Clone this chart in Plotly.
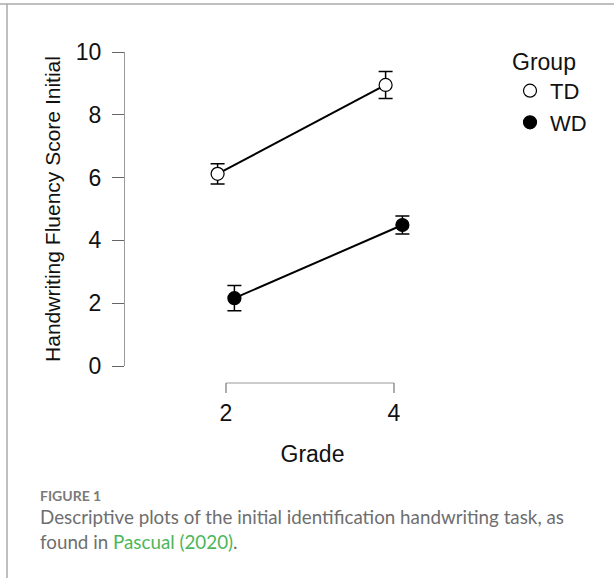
import plotly.graph_objects as go

# ---- data ----
grades = [2, 4]
groups = ["TD", "WD"]
td_mean = [6.12, 8.95]
td_se = [0.32, 0.43]
wd_mean = [2.16, 4.49]
wd_se = [0.40, 0.29]
y_ticks = [0, 2, 4, 6, 8, 10]
dodge = 0.1

# ---- layout geometry (pixels) ----
W, H = 614, 578
L, R, T, B = 125, 114, 52, 212
PW, PH = W - L - R, H - T - B
X2PX, X4PX = 226, 394
ppu = (X4PX - X2PX) / (grades[1] - grades[0])
xr = [grades[0] - (X2PX - L) / ppu, grades[1] + (W - R - X4PX) / ppu]


def px(x):
    return (x - L) / PW


def py(y):
    return (H - B - y) / PH


FONT = "Liberation Sans, Arial, sans-serif"
CAP_FONT = "Lato, Open Sans, sans-serif"
FS = 23

fig = go.Figure()

series = [
    (groups[0], td_mean, td_se, -dodge, "white"),
    (groups[1], wd_mean, wd_se, dodge, "black"),
]

for name, m, se, off, fill in series:
    xs = [g + off for g in grades]
    fig.add_trace(go.Scatter(
        x=xs, y=m, mode="lines", line=dict(color="black", width=2),
        showlegend=False, hoverinfo="skip"))

for name, m, se, off, fill in series:
    xs = [g + off for g in grades]
    fig.add_trace(go.Scatter(
        x=xs, y=m, mode="markers", name=name,
        marker=dict(symbol="circle", size=13, color=fill,
                    line=dict(color="black", width=1.2)),
        error_y=dict(type="data", array=se, visible=True,
                     color="black", thickness=1.5, width=7),
    ))

# x-axis bracket
ybr = py(383)
ytk = py(393)
fig.add_shape(type="line", xref="x", yref="paper", x0=grades[0], x1=grades[-1],
              y0=ybr, y1=ybr, line=dict(color="#999999", width=1.2))
for g in grades:
    fig.add_shape(type="line", xref="x", yref="paper", x0=g, x1=g,
                  y0=ybr, y1=ytk, line=dict(color="#777777", width=1.2))

# frame lines
fig.add_shape(type="line", xref="paper", yref="paper", x0=px(0), x1=px(W),
              y0=py(4), y1=py(4), line=dict(color="#aaaaaa", width=1.5))
fig.add_shape(type="line", xref="paper", yref="paper", x0=px(7), x1=px(7),
              y0=py(4), y1=py(H), line=dict(color="#aaaaaa", width=1.5))

# caption
CX = 38
fig.add_annotation(xref="paper", yref="paper", x=px(CX), y=py(495),
                   xanchor="left", yanchor="middle", showarrow=False,
                   text="<b>FIGURE 1</b>",
                   font=dict(family=CAP_FONT, size=14, color="#7a7a7a"))
fig.add_annotation(xref="paper", yref="paper", x=px(CX), y=py(516),
                   xanchor="left", yanchor="middle", showarrow=False,
                   text="Descriptive plots of the initial identification handwriting task, as",
                   font=dict(family=CAP_FONT, size=18.8, color="#6e6e6e"))
fig.add_annotation(xref="paper", yref="paper", x=px(CX), y=py(541),
                   xanchor="left", yanchor="middle", showarrow=False,
                   text="found in <span style='color:#4cb65a'>Pascual (2020)</span>.",
                   font=dict(family=CAP_FONT, size=18.8, color="#6e6e6e"))

fig.update_layout(
    width=W, height=H,
    margin=dict(l=L, r=R, t=T, b=B),
    paper_bgcolor="white", plot_bgcolor="white",
    font=dict(family=FONT, color="#111111"),
    xaxis=dict(range=xr, tickvals=grades, ticktext=[str(g) for g in grades],
               showline=False, showgrid=False, zeroline=False, ticks="",
               tickfont=dict(size=FS, family=FONT, color="#111111"),
               ticklabelstandoff=31,
               title=dict(text="Grade", font=dict(size=FS, family=FONT, color="#111111"),
                          standoff=20)),
    yaxis=dict(range=[0, 10], tickvals=y_ticks, showline=True, linecolor="#999999",
               linewidth=1.2, ticks="outside", ticklen=12, tickcolor="#666666",
               tickwidth=1.2, showgrid=False, zeroline=False,
               tickfont=dict(size=FS, family=FONT, color="#111111"),
               ticklabelstandoff=6,
               title=dict(text="Handwriting Fluency Score Initial",
                          font=dict(size=21, family=FONT, color="#111111"),
                          standoff=9)),
    legend=dict(x=px(510), y=py(40), xanchor="left", yanchor="top",
                title=dict(text="Group", font=dict(size=FS, family=FONT, color="#111111")),
                font=dict(size=22, family=FONT, color="#111111"),
                bgcolor="rgba(0,0,0,0)", tracegroupgap=0),
    showlegend=True,
)

fig.write_html("out.html", config={"displayModeBar": False},
               post_script="document.body.style.margin='0';")
